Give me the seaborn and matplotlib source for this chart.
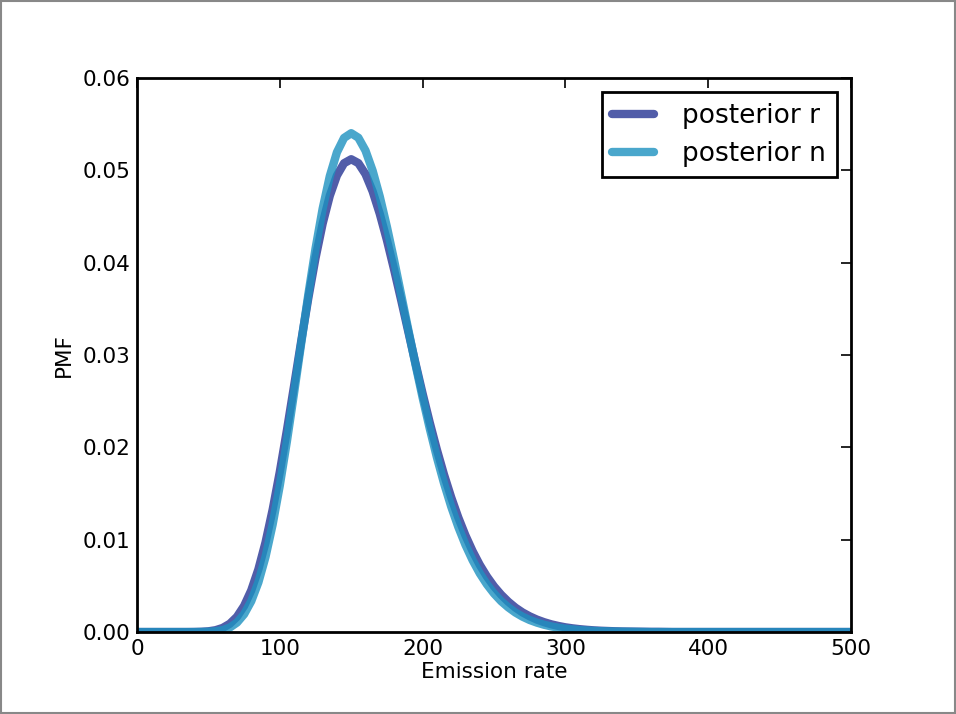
import numpy as np
import pandas as pd
import matplotlib
matplotlib.use("Agg")
import matplotlib.pyplot as plt
from matplotlib.ticker import FormatStrFormatter, MultipleLocator
from matplotlib.patches import Rectangle
import seaborn as sns

# ---- data ----
emission_rate = list(range(0, 501, 5))

posterior_r = (
    [0.0] * 8 +
    [0.0000075, 0.0000267, 0.0000785, 0.000199, 0.000445, 0.000898, 0.00165,
     0.00283, 0.00451, 0.00679, 0.00971, 0.01326, 0.01735, 0.02188, 0.02667,
     0.03151, 0.03618, 0.04048, 0.04422, 0.04724, 0.04944, 0.05077, 0.05120,
     0.05078, 0.04959, 0.04772, 0.04529, 0.04244, 0.03927, 0.03593, 0.03251,
     0.02911, 0.02582, 0.02268, 0.01974, 0.01704, 0.01459, 0.01240, 0.01046,
     0.00876, 0.00728, 0.00602, 0.00494, 0.00404, 0.00328, 0.00264, 0.00212,
     0.00170, 0.00135, 0.00107, 0.00084, 0.00066, 0.00051, 0.00040, 0.00031,
     0.00024, 0.00018, 0.00014, 0.00011, 0.00008, 0.00006, 0.00005, 0.00004,
     0.00003, 0.00002, 0.00002, 0.00001] +
    [0.0] * 26
)

posterior_n = (
    [0.0] * 9 +
    [0.00001, 0.00003, 0.00008, 0.00021, 0.00049, 0.00102, 0.00193, 0.00334,
     0.00538, 0.00814, 0.01165, 0.01587, 0.02067, 0.02589, 0.03128, 0.03658,
     0.04152, 0.04585, 0.04937, 0.05195, 0.05351, 0.05402, 0.05353, 0.05214,
     0.04996, 0.04716, 0.04388, 0.04029, 0.03651, 0.03272, 0.02898, 0.02539,
     0.02203, 0.01892, 0.01611, 0.01359, 0.01138, 0.00944, 0.00778, 0.00636,
     0.00517, 0.00417, 0.00334, 0.00267, 0.00211, 0.00166, 0.00130, 0.00102,
     0.00079, 0.00061, 0.00047, 0.00036, 0.00028, 0.00021, 0.00016, 0.00012,
     0.00009, 0.00007, 0.00005, 0.00004, 0.00003, 0.00002, 0.00001] +
    [0.0] * 29
)

series_labels = ["posterior r", "posterior n"]
series_colors = ["#253494", "#1D91C0"]

x_ticks = [0, 100, 200, 300, 400, 500]
x_label = "Emission rate"
y_label = "PMF"

# ---- figure ----
sns.set_style("white")
plt.rcParams["font.family"] = ["DejaVu Sans"]
plt.rcParams["text.color"] = "black"
plt.rcParams["axes.labelcolor"] = "black"
plt.rcParams["xtick.color"] = "black"
plt.rcParams["ytick.color"] = "black"

fig = plt.figure(figsize=(9.56, 7.14), dpi=100)
ax = fig.add_axes([0.1433, 0.1148, 0.8902 - 0.1433, 0.8908 - 0.1148])

for label, vals, col in zip(series_labels, [posterior_r, posterior_n], series_colors):
    df = pd.DataFrame({"x": emission_rate, "p": vals})
    sns.lineplot(data=df, x="x", y="p", ax=ax, color=col, linewidth=6,
                 alpha=0.8, label=label, legend=False)

ax.set_xlim(0, 500)
ax.set_ylim(0, 0.06)
ax.set_xticks(x_ticks)
ax.yaxis.set_major_locator(MultipleLocator(0.01))
ax.yaxis.set_major_formatter(FormatStrFormatter("%.2f"))
ax.tick_params(direction="in", top=True, right=True, length=7, width=1.2,
               labelsize=15.5, pad=5, colors="black")
for s in ax.spines.values():
    s.set_linewidth(2)
    s.set_color("black")

ax.set_xlabel(x_label, fontsize=15.5, labelpad=2, color="black")
ax.set_ylabel(y_label, fontsize=15.5, labelpad=6, color="black")

leg = ax.legend(loc="upper right", fontsize=19, handlelength=1.6,
                handletextpad=1.05, labelspacing=0.45, borderpad=0.4,
                borderaxespad=0.55, fancybox=False, frameon=True)
leg.get_frame().set_edgecolor("black")
leg.get_frame().set_linewidth(2)
leg.get_frame().set_alpha(1)
for t in leg.get_texts():
    t.set_color("black")

fig.patches.append(Rectangle((0.001, 0.001), 0.998, 0.997, transform=fig.transFigure,
                             fill=False, edgecolor="#888888", linewidth=1.5))

fig.savefig("out.png", dpi=100)
